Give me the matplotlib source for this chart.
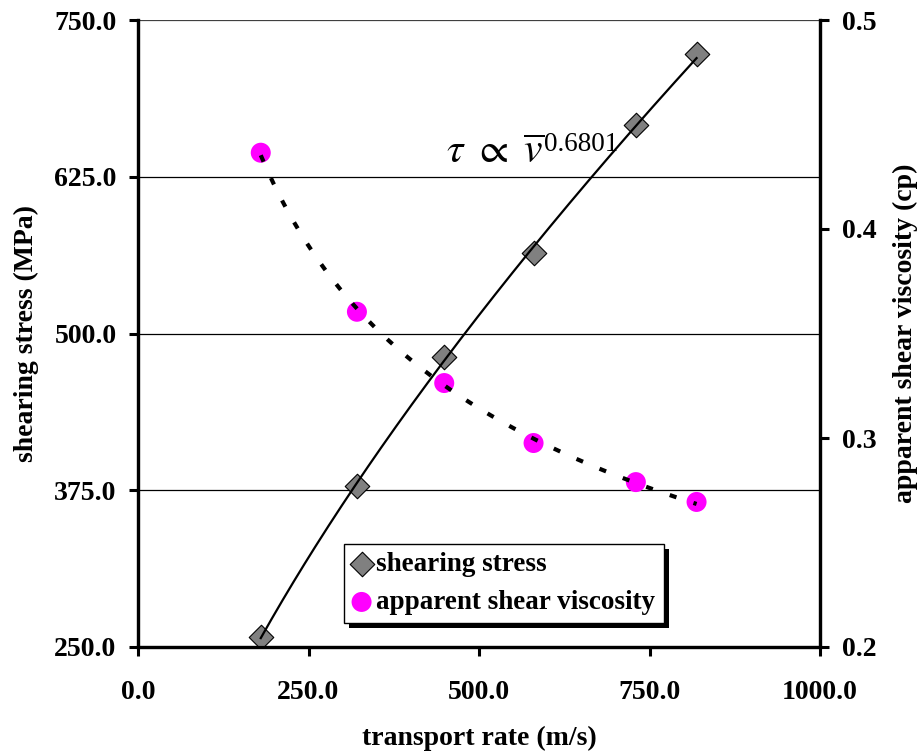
import numpy as np
import matplotlib
matplotlib.use("Agg")
import matplotlib.pyplot as plt
from matplotlib.ticker import FormatStrFormatter, FixedLocator
from matplotlib.patches import Rectangle
from matplotlib.transforms import offset_copy

plt.rcParams['font.family'] = ['Liberation Serif', 'DejaVu Serif']
plt.rcParams['mathtext.fontset'] = 'stix'

# data
transport_rate = [180, 321, 449, 580, 730, 819]
shearing_stress = [258.0, 378.4, 481.3, 564.2, 666.3, 722.9]
apparent_viscosity = [0.4365, 0.3604, 0.3263, 0.2976, 0.2789, 0.2694]
x_ticks = [0, 250, 500, 750, 1000]
left_ticks = [250, 375, 500, 625, 750]
right_ticks = [0.2, 0.3, 0.4, 0.5]

FS = 20
fig = plt.figure(figsize=(9.2, 7.53), dpi=100)
ax = fig.add_axes([138/920, 106/753, 682/920, 627/753])
ax2 = ax.twinx()

ax.set_xlim(0, 1000)
ax.set_ylim(250, 750)
ax2.set_ylim(0.2, 0.5)

# gridlines
for v in left_ticks[1:]:
    ax.axhline(v, color='#404040' if v == 750 else 'black', lw=0.9, zorder=1)

# power trendlines from the data
xs = np.array(transport_rate, float)
p1 = np.polyfit(np.log(xs), np.log(shearing_stress), 1)
p2 = np.polyfit(np.log(xs), np.log(apparent_viscosity), 1)
xf = np.linspace(xs.min(), xs.max(), 200)

ax.scatter(transport_rate, shearing_stress, marker='D', s=12.5**2, c='#808080',
           edgecolors='black', linewidths=0.8, zorder=3, label='shearing stress')
ax.plot(xf, np.exp(np.polyval(p1, np.log(xf))), color='black', lw=1.6, zorder=4)

ax2.scatter(transport_rate, apparent_viscosity, marker='o', s=14.4**2, c='#FF00FF',
            edgecolors='none', zorder=3, label='apparent shear viscosity')
ax2.plot(xf, np.exp(np.polyval(p2, np.log(xf))), color='black', lw=3.0,
         dashes=(1.7, 4.3), zorder=4)

# axes styling
for a in (ax, ax2):
    a.spines['top'].set_visible(False)
    for s in ('left', 'right', 'bottom'):
        a.spines[s].set_linewidth(2.3)
ax.xaxis.set_major_locator(FixedLocator(x_ticks))
ax.yaxis.set_major_locator(FixedLocator(left_ticks))
ax2.yaxis.set_major_locator(FixedLocator(right_ticks))
ax.xaxis.set_major_formatter(FormatStrFormatter('%.1f'))
ax.yaxis.set_major_formatter(FormatStrFormatter('%.1f'))
ax2.yaxis.set_major_formatter(FormatStrFormatter('%.1f'))
ax.tick_params(axis='x', direction='out', length=6.5, width=2.2, pad=17, labelsize=FS)
ax.tick_params(axis='y', direction='out', length=6.5, width=2.2, pad=9, labelsize=FS)
ax2.tick_params(axis='y', direction='out', length=6.5, width=2.2, pad=9, labelsize=FS)
for lab in ax.get_xticklabels() + ax.get_yticklabels() + ax2.get_yticklabels():
    lab.set_fontweight('bold')

ax.set_xlabel('transport rate (m/s)', fontsize=FS, fontweight='bold', labelpad=15)
ax.set_ylabel('shearing stress (MPa)', fontsize=FS, fontweight='bold', labelpad=11)
ax2.set_ylabel('apparent shear viscosity (cp)', fontsize=FS, fontweight='bold',
               labelpad=12, rotation=90)

main = ax.text(451, 636, r'$\tau\ \propto\ \overline{v}$', fontsize=30,
               ha='left', va='baseline', zorder=5)

h1, l1 = ax.get_legend_handles_labels()
h2, l2 = ax2.get_legend_handles_labels()
leg = ax2.legend(h1 + h2, l1 + l2, loc='lower left', bbox_to_anchor=(0.302, 0.038),
                 frameon=True, fancybox=False, framealpha=1, edgecolor='black',
                 prop={'family': 'Liberation Serif', 'weight': 'bold', 'size': 19.5},
                 handlelength=0.7, handletextpad=0.2, borderpad=0.3,
                 labelspacing=0.47, borderaxespad=0)
leg.get_frame().set_linewidth(1.0)
leg.set_zorder(10)

fig.canvas.draw()
r = fig.canvas.get_renderer()
mb = main.get_window_extent(r)
inv = ax.transData.inverted()
x_end, _ = inv.transform((mb.x1, mb.y0))
ax.text(x_end, 636, '0.6801', fontsize=19.5, family='Liberation Serif',
        ha='left', va='baseline', zorder=5,
        transform=offset_copy(ax.transData, fig=fig, x=0, y=12, units='dots'))

bb = leg.get_window_extent(r)
shadow = Rectangle((bb.x0 + 5, bb.y0 - 5), bb.width, bb.height, transform=None,
                   facecolor='black', edgecolor='none', zorder=9)
ax2.add_artist(shadow)

fig.savefig('out.png', dpi=100)
